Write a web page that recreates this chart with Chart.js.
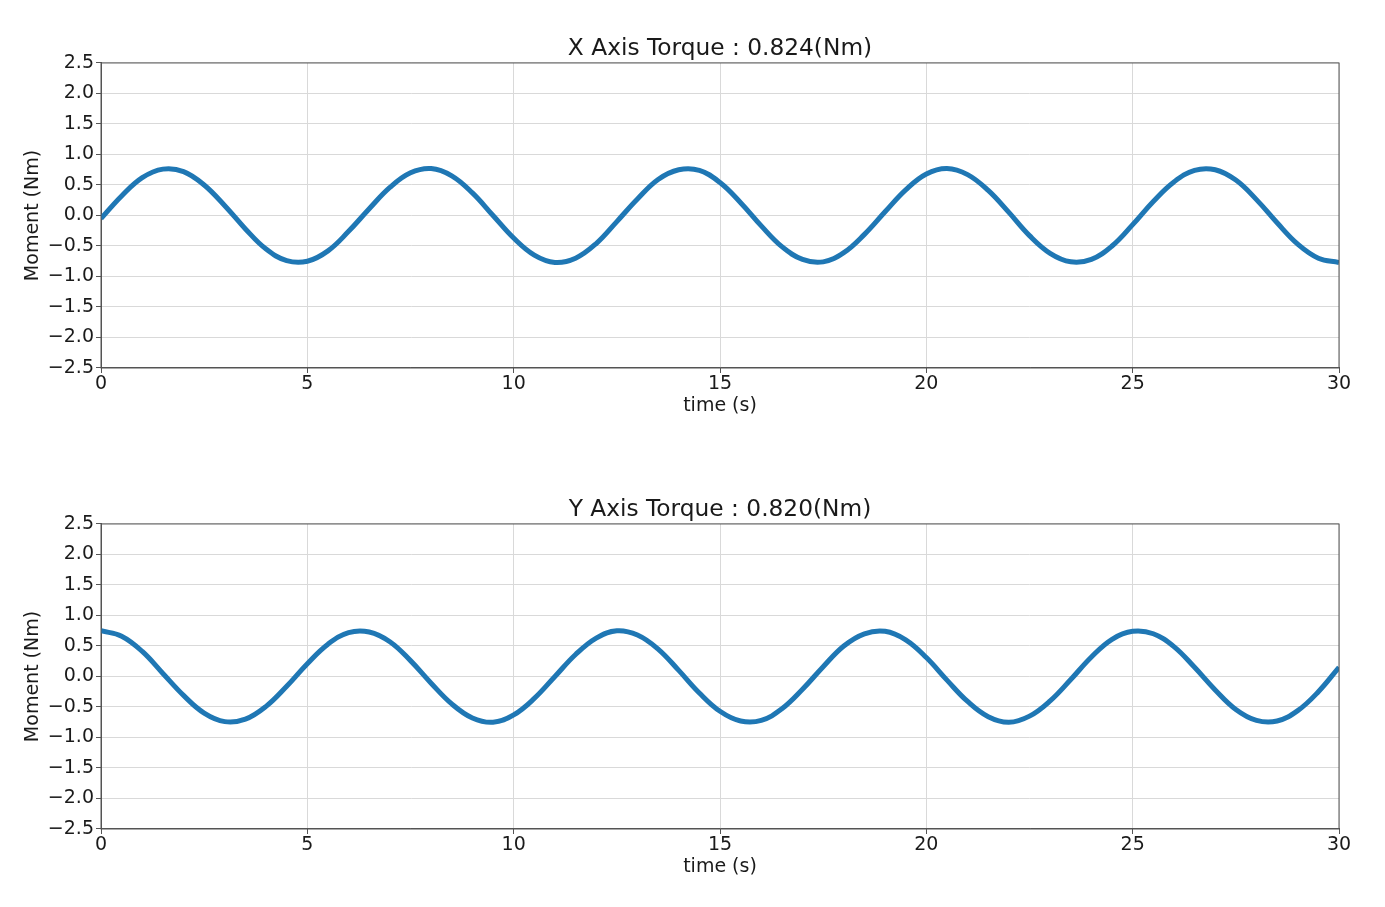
<!DOCTYPE html>
<html>
<head>
<meta charset="utf-8">
<script src="https://cdn.jsdelivr.net/npm/chart.js@4.4.1/dist/chart.umd.min.js"></script>
<style>
  body { margin: 0; background: #fff; }
  .panel { position: absolute; left: 0; }
  #topPanel { top: 0; }
  #bottomPanel { top: 461px; }
</style>
</head>
<body>
<div class="panel" id="topPanel"><canvas id="xTorque" width="1385" height="453"></canvas></div>
<div class="panel" id="bottomPanel"><canvas id="yTorque" width="1385" height="453"></canvas></div>
<script>
// time samples (s)
const time = [0, 0.5, 1, 1.5, 2, 2.5, 3, 3.5, 4, 4.5, 5, 5.5, 6, 6.5, 7, 7.5, 8, 8.5, 9, 9.5,
  10, 10.5, 11, 11.5, 12, 12.5, 13, 13.5, 14, 14.5, 15, 15.5, 16, 16.5, 17, 17.5, 18, 18.5, 19, 19.5,
  20, 20.5, 21, 21.5, 22, 22.5, 23, 23.5, 24, 24.5, 25, 25.5, 26, 26.5, 27, 27.5, 28, 28.5, 29, 29.5, 30];

// X axis moment (Nm)
const xMoment = [-0.05, 0.32, 0.62, 0.76, 0.72, 0.50, 0.16, -0.22, -0.55, -0.74,
  -0.75, -0.58, -0.26, 0.11, 0.46, 0.70, 0.77, 0.65, 0.37, 0.00,
  -0.37, -0.65, -0.77, -0.70, -0.46, -0.10, 0.27, 0.59, 0.75, 0.74,
  0.54, 0.21, -0.17, -0.51, -0.72, -0.76, -0.61, -0.31, 0.06, 0.42,
  0.68, 0.77, 0.67, 0.41, 0.05, -0.33, -0.62, -0.76, -0.72, -0.50,
  -0.15, 0.23, 0.55, 0.74, 0.75, 0.58, 0.26, -0.12, -0.47, -0.70, -0.77];

// Y axis moment (Nm)
const yMoment = [0.75, 0.66, 0.41, 0.05, -0.31, -0.60, -0.74, -0.70, -0.49, -0.16,
  0.21, 0.53, 0.72, 0.73, 0.57, 0.26, -0.11, -0.45, -0.68, -0.75,
  -0.63, -0.36, 0.00, 0.36, 0.63, 0.75, 0.68, 0.45, 0.10, -0.27,
  -0.57, -0.73, -0.72, -0.53, -0.21, 0.16, 0.50, 0.70, 0.74, 0.60,
  0.31, -0.06, -0.41, -0.66, -0.75, -0.65, -0.40, -0.05, 0.32, 0.61,
  0.74, 0.70, 0.49, 0.15, -0.22, -0.54, -0.72, -0.73, -0.56, -0.25, 0.15];

const titles = ['X Axis Torque : 0.824(Nm)', 'Y Axis Torque : 0.820(Nm)'];

Chart.defaults.font.family = 'DejaVu Sans';
Chart.defaults.color = '#1a1a1a';

// draw all four spines like matplotlib
const framePlugin = {
  id: 'frame',
  afterDraw(chart) {
    const { ctx, chartArea: a } = chart;
    ctx.save();
    ctx.strokeStyle = '#555';
    ctx.lineWidth = 1;
    ctx.strokeRect(a.left, a.top, a.right - a.left, a.bottom - a.top);
    ctx.restore();
  }
};

function makeChart(id, values, title) {
  const ctx = document.getElementById(id).getContext('2d');
  return new Chart(ctx, {
    type: 'line',
    data: {
      datasets: [{
        data: time.map((t, i) => ({ x: t, y: values[i] })),
        borderColor: '#1f77b4',
        borderWidth: 5,
        pointRadius: 0,
        tension: 0.4
      }]
    },
    options: {
      responsive: false,
      animation: false,
      layout: { padding: { left: 0, right: 46, top: 0, bottom: 0 } },
      plugins: {
        legend: { display: false },
        tooltip: { enabled: false },
        title: {
          display: true,
          text: title,
          fullSize: false,
          font: { size: 23.3, weight: 'normal' },
          padding: { top: 35, bottom: 0 }
        }
      },
      scales: {
        x: {
          type: 'linear',
          min: 0,
          max: 30,
          afterFit: s => { s.height = 85; },
          ticks: { stepSize: 5, font: { size: 19 }, padding: 0, maxRotation: 0 },
          grid: { color: '#d9d9d9', tickColor: '#555', tickLength: 5 },
          border: { color: '#555' },
          title: { display: true, text: 'time (s)', font: { size: 19 }, padding: { top: 0, bottom: 36 } }
        },
        y: {
          min: -2.5,
          max: 2.5,
          afterFit: s => { s.width = 101; },
          ticks: {
            stepSize: 0.5,
            font: { size: 19 },
            padding: 2,
            callback: v => (v < 0 ? '\u2212' : '') + Math.abs(v).toFixed(1)
          },
          grid: { color: '#d9d9d9', tickColor: '#555', tickLength: 5 },
          border: { color: '#555' },
          title: { display: true, text: 'Moment (Nm)', font: { size: 19 }, padding: { top: 22, bottom: 0 } }
        }
      }
    },
    plugins: [framePlugin]
  });
}

makeChart('xTorque', xMoment, titles[0]);
makeChart('yTorque', yMoment, titles[1]);
</script>
</body>
</html>
